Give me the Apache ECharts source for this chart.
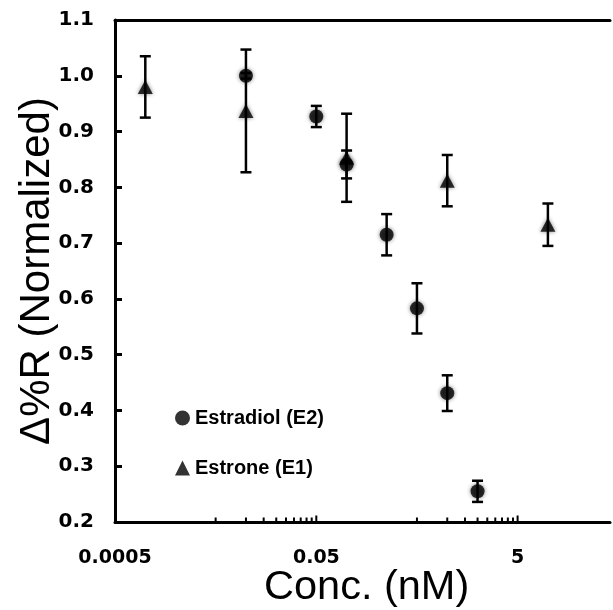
<!DOCTYPE html>
<html><head><meta charset="utf-8">
<script src="https://cdn.jsdelivr.net/npm/echarts@6/dist/echarts.min.js"></script>
<style>html,body{margin:0;padding:0;background:#fff}#c{width:613px;height:610px}</style>
</head><body><div id="c"></div>
<script>
// Estradiol (E2)
const e2Conc = [0.01, 0.05, 0.1, 0.25, 0.5, 1, 2];
const e2Val  = [1.000, 0.927, 0.841, 0.715, 0.583, 0.431, 0.255];
const e2Err  = [0.005, 0.019, 0.025, 0.037, 0.045, 0.032, 0.019];
// Estrone (E1)
const e1Conc = [0.001, 0.01, 0.1, 1, 10];
const e1Val  = [0.980, 0.937, 0.853, 0.812, 0.733];
const e1Err  = [0.055, 0.110, 0.079, 0.046, 0.038];
// axis ticks
const xTickLabels = [0.0005, 0.05, 5];
const xMajorTicks = [0.05, 5];
const xMinorTicks = [0.005, 0.01, 0.015, 0.02, 0.025, 0.03, 0.035, 0.04, 0.045,
                     0.5, 1, 1.5, 2, 2.5, 3, 3.5, 4, 4.5];
const xMin = 0.0005, xMax = 41.4;
const seriesNames = ['Estradiol (E2)', 'Estrone (E1)'];

const FONT = '"Liberation Sans", Arial, sans-serif';
const LBLFONT = '"DejaVu Sans", sans-serif';
const chart = echarts.init(document.getElementById('c'), null, {renderer: 'canvas'});

function errBars(name, xs, ys, es) {
  return {
    type: 'custom', name: name + ' err', silent: true, z: 3,
    data: xs.map((x, i) => [x, ys[i], es[i]]),
    encode: {x: 0, y: 1},
    renderItem: function (params, api) {
      const x = api.value(0), y = api.value(1), e = api.value(2);
      const t = api.coord([x, y + e]), b = api.coord([x, y - e]);
      const w = 5.5, st = {stroke: '#000', lineWidth: 2.5};
      return {type: 'group', children: [
        {type: 'line', shape: {x1: t[0], y1: t[1], x2: b[0], y2: b[1]}, style: st},
        {type: 'line', shape: {x1: t[0] - w, y1: t[1], x2: t[0] + w, y2: t[1]}, style: st},
        {type: 'line', shape: {x1: b[0] - w, y1: b[1], x2: b[0] + w, y2: b[1]}, style: st}
      ]};
    }
  };
}

function tickSeries(name, vals, len) {
  return {
    type: 'custom', name: name, silent: true, z: 2,
    data: vals.map(v => [v, 0.2]),
    encode: {x: 0, y: 1},
    renderItem: function (params, api) {
      const p = api.coord([api.value(0), api.value(1)]);
      return {type: 'line', shape: {x1: p[0], y1: p[1], x2: p[0], y2: p[1] - len},
        style: {stroke: '#000', lineWidth: 2}};
    }
  };
}

const option = {
  animation: false,
  backgroundColor: '#fff',
  grid: {left: 115, top: 20, right: 0, bottom: 88, show: false},
  xAxis: [{
    type: 'log', logBase: 10, min: xMin, max: xMax, interval: 2,
    axisLine: {show: true, lineStyle: {color: '#000', width: 3}},
    axisTick: {show: false},
    splitLine: {show: false},
    axisLabel: {
      margin: 27, fontFamily: LBLFONT, fontWeight: 'bold', fontSize: 19, color: '#000',
      formatter: function (v) {
        for (const l of xTickLabels) { if (Math.abs(Math.log10(v / l)) < 0.02) return String(l); }
        return '';
      }
    }
  }, {
    type: 'log', logBase: 10, min: xMin, max: xMax, position: 'top',
    axisLine: {show: true, lineStyle: {color: '#000', width: 3}},
    axisTick: {show: false}, axisLabel: {show: false}, splitLine: {show: false}
  }],
  yAxis: {
    type: 'value', min: 0.2, max: 1.1, interval: 0.1,
    name: '\u0394%R (Normalized)', nameLocation: 'middle', nameGap: 57, nameMoveOverlap: false,
    nameTextStyle: {fontFamily: FONT, fontSize: 42, color: '#000'},
    axisLine: {show: true, lineStyle: {color: '#000', width: 3}},
    axisTick: {show: true, inside: true, length: 7, lineStyle: {color: '#000', width: 3}},
    splitLine: {show: false},
    axisLabel: {margin: 21, fontFamily: LBLFONT, fontWeight: 'bold', fontSize: 20, color: '#000',
      formatter: v => v.toFixed(1)}
  },
  title: {text: 'Conc. (nM)', left: 264, top: 567, padding: 0,
    textStyle: {fontFamily: FONT, fontSize: 41.5, fontWeight: 'normal', color: '#000'}},
  legend: {
    data: seriesNames, orient: 'vertical', left: 175, top: 408, itemWidth: 15, itemHeight: 15, itemGap: 30,
    padding: 0, selectedMode: false,
    itemStyle: {shadowBlur: 0},
    textStyle: {fontFamily: FONT, fontWeight: 'bold', fontSize: 20, color: '#000'}
  },
  series: [
    errBars(seriesNames[0], e2Conc, e2Val, e2Err),
    errBars(seriesNames[1], e1Conc, e1Val, e1Err),
    {
      type: 'scatter', name: seriesNames[0], symbol: 'circle', symbolSize: 14, z: 4,
      data: e2Conc.map((x, i) => [x, e2Val[i]]),
      itemStyle: {color: '#000', shadowBlur: 4, shadowColor: 'rgba(0,0,0,0.6)'}
    },
    {
      type: 'scatter', name: seriesNames[1], symbol: 'triangle', symbolSize: [15, 14], z: 4,
      data: e1Conc.map((x, i) => [x, e1Val[i]]),
      itemStyle: {color: '#000', shadowBlur: 4, shadowColor: 'rgba(0,0,0,0.6)'}
    },
    tickSeries('minor ticks', xMinorTicks, 4.5),
    tickSeries('major ticks', xMajorTicks, 6.5)
  ]
};
chart.setOption(option);
</script>
</body></html>
